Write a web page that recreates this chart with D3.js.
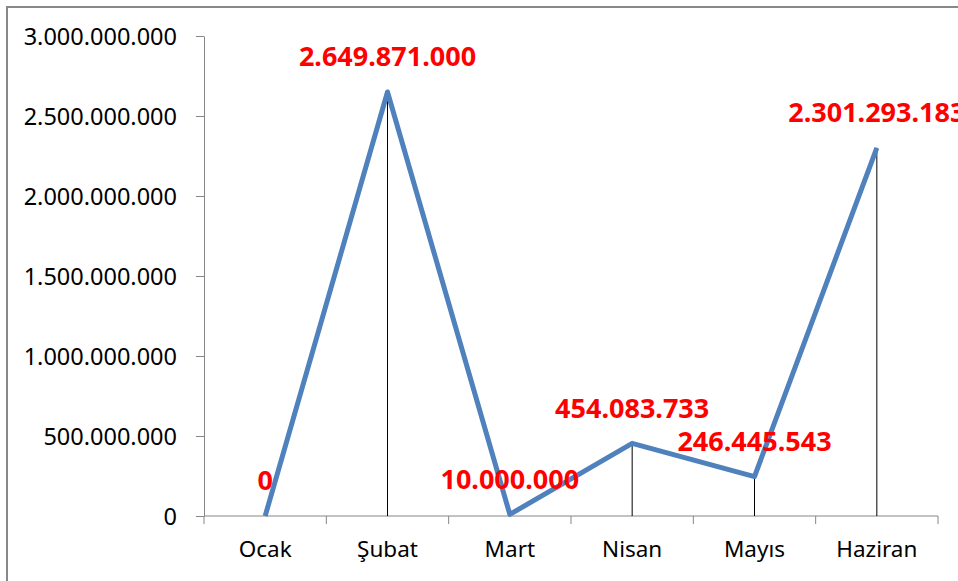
<!DOCTYPE html>
<html>
<head>
<meta charset="utf-8">
<script src="https://cdn.jsdelivr.net/npm/d3@7"></script>
<style>
  body { margin: 0; background: #fff; }
  svg text { font-family: "Noto Sans", sans-serif; }
  .axis path, .axis line { stroke: #868686; }
</style>
</head>
<body>
<div id="chart"></div>
<script>
// Months and values
var months = ["Ocak", "Şubat", "Mart", "Nisan", "Mayıs", "Haziran"];
var values = [0, 2649871000, 10000000, 454083733, 246445543, 2301293183];
var yTicks = [0, 500000000, 1000000000, 1500000000, 2000000000, 2500000000, 3000000000];

var width = 958, height = 581;
var margin = {top: 36, right: 20, bottom: 65, left: 204};

// Turkish style number format with dots as thousand separators
var trFormat = d3.formatLocale({decimal: ",", thousands: ".", grouping: [3], currency: ["", ""]}).format(",d");

var svg = d3.select("#chart").append("svg")
    .attr("width", width)
    .attr("height", height);

// outer chart frame, runs off the right and bottom edges
svg.append("rect")
    .attr("x", 7).attr("y", 7)
    .attr("width", 1000).attr("height", 1000)
    .attr("fill", "none")
    .attr("stroke", "#888")
    .attr("stroke-width", 2);

var x = d3.scaleBand()
    .domain(months)
    .range([margin.left, 938]);

var y = d3.scaleLinear()
    .domain([0, 3000000000])
    .range([height - margin.bottom, margin.top]);

function cx(d, i) { return x(months[i]) + x.bandwidth() / 2; }

// y axis
var yAxis = svg.append("g")
    .attr("class", "axis")
    .attr("transform", "translate(" + margin.left + ",0)")
    .call(d3.axisLeft(y).tickValues(yTicks).tickFormat(trFormat).tickSize(8).tickSizeOuter(0).tickPadding(19));
yAxis.selectAll("text")
    .attr("fill", "#000")
    .style("font-size", "23.5px")
    .attr("dy", "0.35em");

// x axis, ticks sit on the category boundaries
var xAxis = svg.append("g")
    .attr("class", "axis")
    .attr("transform", "translate(0," + y(0) + ")")
    .call(d3.axisBottom(x).tickSize(0).tickPadding(25));
xAxis.select(".domain").remove();
xAxis.selectAll("text")
    .attr("fill", "#000")
    .style("font-size", "22.5px");
xAxis.append("line")
    .attr("x1", margin.left).attr("x2", 938)
    .attr("stroke", "#868686");
xAxis.selectAll(".bound")
    .data(d3.range(months.length + 1))
    .enter().append("line")
    .attr("class", "bound")
    .attr("x1", function(i) { return margin.left + i * x.bandwidth(); })
    .attr("x2", function(i) { return margin.left + i * x.bandwidth(); })
    .attr("y1", 0).attr("y2", 8)
    .attr("stroke", "#868686");

// drop lines from each point down to the axis
svg.append("g").selectAll("line")
    .data(values)
    .enter().append("line")
    .attr("x1", cx).attr("x2", cx)
    .attr("y1", function(d) { return y(d); })
    .attr("y2", y(0))
    .attr("stroke", "#000")
    .attr("stroke-width", 1);

// the series line
var line = d3.line()
    .x(cx)
    .y(function(d) { return y(d); });

svg.append("path")
    .datum(values)
    .attr("d", line)
    .attr("fill", "none")
    .attr("stroke", "#4F81BD")
    .attr("stroke-width", 5)
    .attr("stroke-linejoin", "round");

// data labels
svg.append("g").selectAll("text")
    .data(values)
    .enter().append("text")
    .attr("x", cx)
    .attr("y", function(d) { return y(d) - 35; })
    .attr("dy", "0.35em")
    .attr("text-anchor", "middle")
    .attr("fill", "#FF0000")
    .style("font-weight", "bold")
    .style("font-size", "27px")
    .text(function(d) { return trFormat(d); });
</script>
</body>
</html>
